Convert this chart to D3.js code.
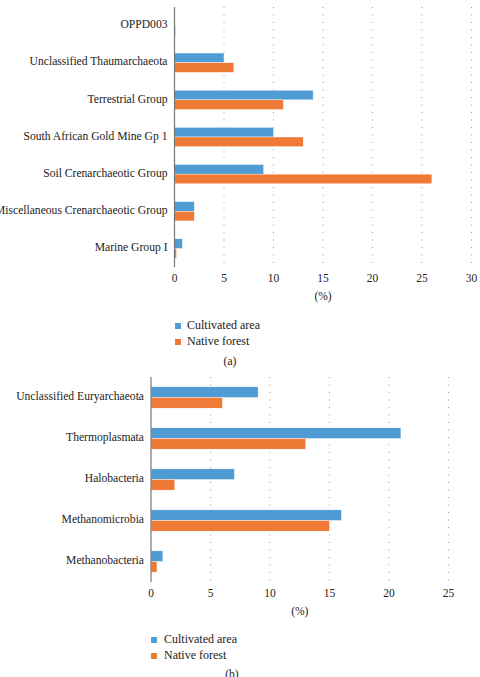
<!DOCTYPE html>
<html>
<head>
<meta charset="utf-8">
<script src="https://cdn.jsdelivr.net/npm/d3@7"></script>
<style>
    body { margin: 0; background: #fff; }
    svg { display: block; font-family: "Liberation Serif", "Times New Roman", serif; }
</style>
</head>
<body>
<div id="chart"></div>
<script>
const seriesNames = ["Cultivated area", "Native forest"];
const seriesColors = ["#4f9bd3", "#ef7a35"];

// panel (a)
const categoriesA = ["OPPD003", "Unclassified Thaumarchaeota", "Terrestrial Group",
    "South African Gold Mine Gp 1", "Soil Crenarchaeotic Group",
    "Miscellaneous Crenarchaeotic Group", "Marine Group I"];
const cultivatedA = [0, 5, 14, 10, 9, 2, 0.8];
const nativeA = [0.1, 6, 11, 13, 26, 2, 0.2];
const ticksA = [0, 5, 10, 15, 20, 25, 30];

// panel (b)
const categoriesB = ["Unclassified Euryarchaeota", "Thermoplasmata", "Halobacteria",
    "Methanomicrobia", "Methanobacteria"];
const cultivatedB = [9, 21, 7, 16, 1];
const nativeB = [6, 13, 2, 15, 0.5];
const ticksB = [0, 5, 10, 15, 20, 25];

const width = 480, height = 677;
const textColor = "#222";

const svg = d3.select("#chart").append("svg")
    .attr("width", width)
    .attr("height", height);

function drawPanel(opts) {
    const g = svg.append("g");
    const maxX = d3.max(opts.ticks);

    const xScale = d3.scaleLinear().domain([0, maxX]).range([opts.left, opts.right]);
    const yScale = d3.scaleBand().domain(opts.categories).range([opts.top, opts.bottom])
        .paddingInner(0.48).paddingOuter(0.24);
    const sub = d3.scaleBand().domain(seriesNames).range([0, yScale.bandwidth()]);

    // dotted gridlines
    g.append("g")
        .selectAll("line")
        .data(opts.ticks.filter(d => d > 0))
        .join("line")
        .attr("x1", d => xScale(d))
        .attr("x2", d => xScale(d))
        .attr("y1", opts.top)
        .attr("y2", opts.bottom)
        .style("stroke", "#9a9a9a")
        .style("stroke-width", 1)
        .style("stroke-dasharray", "1,6.5");

    const rows = opts.categories.map((c, i) => ({
        cat: c,
        values: [opts.cultivated[i], opts.native[i]]
    }));

    const groups = g.append("g")
        .selectAll("g")
        .data(rows)
        .join("g")
        .attr("transform", d => `translate(0,${yScale(d.cat)})`);

    groups.selectAll("rect")
        .data(d => d.values.map((v, j) => ({ v: v, s: seriesNames[j], j: j })))
        .join("rect")
        .attr("x", xScale(0))
        .attr("y", d => sub(d.s))
        .attr("width", d => xScale(d.v) - xScale(0))
        .attr("height", sub.bandwidth())
        .attr("fill", d => seriesColors[d.j])
        .attr("stroke", "#ffffff")
        .attr("stroke-width", 0.4);

    // category labels
    g.append("g")
        .selectAll("text")
        .data(opts.categories)
        .join("text")
        .text(d => d)
        .attr("x", opts.left - 7)
        .attr("y", d => yScale(d) + yScale.bandwidth() / 2)
        .attr("text-anchor", "end")
        .attr("dominant-baseline", "middle")
        .attr("font-size", 11.6)
        .attr("fill", textColor);

    // y axis line
    g.append("line")
        .attr("x1", xScale(0))
        .attr("x2", xScale(0))
        .attr("y1", opts.top)
        .attr("y2", opts.bottom)
        .style("stroke", "#777")
        .style("stroke-width", 1.2);

    // x tick labels
    g.append("g")
        .selectAll("text")
        .data(opts.ticks)
        .join("text")
        .text(d => d)
        .attr("x", d => xScale(d))
        .attr("y", opts.bottom + 12.5)
        .attr("text-anchor", "middle")
        .attr("dominant-baseline", "middle")
        .attr("font-size", 11.5)
        .attr("fill", textColor);

    g.append("text")
        .text("(%)")
        .attr("x", (xScale(0) + xScale(maxX)) / 2)
        .attr("y", opts.bottom + 30)
        .attr("text-anchor", "middle")
        .attr("dominant-baseline", "middle")
        .attr("font-size", 11.5)
        .attr("fill", textColor);

    // legend
    const legend = g.append("g")
        .selectAll("g")
        .data(seriesNames)
        .join("g")
        .attr("transform", (d, i) => `translate(${opts.legendX},${opts.legendY + i * 16})`);

    legend.append("rect")
        .attr("x", 0)
        .attr("y", -3)
        .attr("width", 6)
        .attr("height", 6)
        .attr("fill", (d, i) => seriesColors[i]);

    legend.append("text")
        .text(d => d)
        .attr("x", opts.legendTextDx)
        .attr("y", 0)
        .attr("dominant-baseline", "middle")
        .attr("font-size", 12)
        .attr("fill", textColor);

    g.append("text")
        .text(opts.caption)
        .attr("x", opts.captionX)
        .attr("y", opts.captionY)
        .attr("text-anchor", "middle")
        .attr("dominant-baseline", "middle")
        .attr("font-size", 11.5)
        .attr("fill", textColor);
}

drawPanel({
    categories: categoriesA, cultivated: cultivatedA, native: nativeA, ticks: ticksA,
    left: 174.5, right: 471.5, top: 7, bottom: 267,
    legendX: 175, legendY: 326, legendTextDx: 12,
    caption: "(a)", captionX: 230, captionY: 362
});

drawPanel({
    categories: categoriesB, cultivated: cultivatedB, native: nativeB, ticks: ticksB,
    left: 151, right: 448.5, top: 377, bottom: 582,
    legendX: 151, legendY: 640, legendTextDx: 13,
    caption: "(b)", captionX: 232, captionY: 675
});
</script>
</body>
</html>
